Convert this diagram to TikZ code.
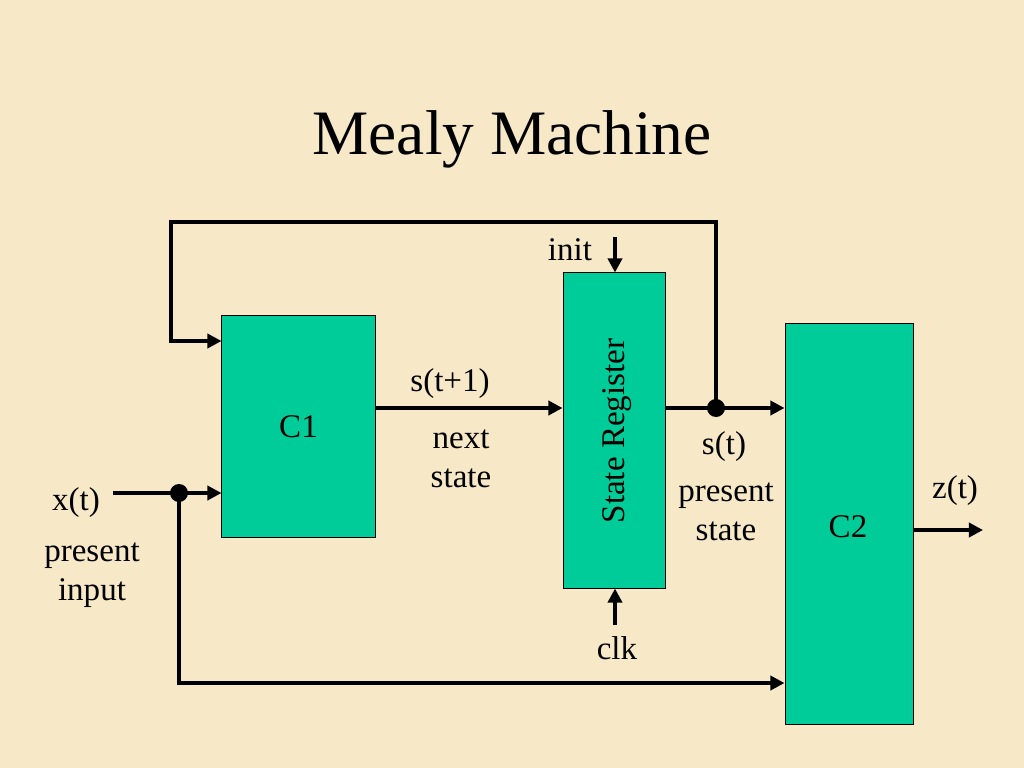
\documentclass[tikz,border=0pt]{standalone}
\usepackage{fontspec}
\setmainfont{Liberation Serif}
\usetikzlibrary{arrows.meta}
\definecolor{paper}{HTML}{F7E8C8}
\definecolor{boxgreen}{HTML}{00CC99}
\tikzset{
  block/.style={draw,fill=boxgreen,line width=0.7pt,inner sep=0pt},
  wire/.style={line width=2.9pt},
  arr/.style={wire,-{Triangle[length=10pt,width=10pt]}},
  lbl/.style={font=\fontsize{23.5}{28}\selectfont,inner sep=0pt,align=center}
}
\begin{document}
\begin{tikzpicture}[x=0.025cm,y=-0.025cm]
    \fill[paper] (0,0) rectangle (1024,768);
    \node[font=\fontsize{45}{50}\selectfont] (title) at (512,139) {Mealy Machine};

    \node[block,minimum width=3.825cm,minimum height=5.525cm] (C1) at (298.5,426.5) {};
    \node[block,minimum width=2.55cm,minimum height=7.875cm] (SR) at (614,430.5) {};
    \node[block,minimum width=3.2cm,minimum height=10cm] (C2) at (849,524) {};
    \node[lbl] at (C1) {C1};
    \node[lbl] at (848,527) {C2};
    \node[lbl,rotate=90] at (617,431) {State Register};

    \coordinate (js) at (716,408);
    \coordinate (jx) at (179,493);
    \coordinate (fb) at (171,222);
    \coordinate (xin) at (113,493);
    \coordinate (zout) at (983,530);
    \coordinate (init) at (615,237);
    \coordinate (clk) at (615,625);

    \draw[arr] (C1.east |- js) -- (SR.west |- js);
    \draw[arr] (SR.east |- js) -- (C2.west |- js);
    \draw[arr] (js) |- (fb) |- (C1.west |- 0,341);
    \draw[arr] (xin) -- (C1.west |- jx);
    \draw[arr] (jx) |- (C2.west |- 0,683);
    \draw[arr] (C2.east |- zout) -- (zout);
    \draw[arr] (init) -- (SR.north -| init);
    \draw[arr] (clk) -- (SR.south -| clk);

    \foreach \p in {js, jx}
    \fill (\p) circle (9);

    \node[lbl] at (450,384) {s(t+1)};
    \node[lbl] at (461,459) {next\\state};
    \node[lbl] at (724,447) {s(t)};
    \node[lbl] at (726,512) {present\\state};
    \node[lbl] at (76,503) {x(t)};
    \node[lbl] at (92,575) {present\\input};
    \node[lbl] at (955,491) {z(t)};
    \node[lbl] at (570,250) {init};
    \node[lbl] at (617,648) {clk};
  \end{tikzpicture}
\end{document}
